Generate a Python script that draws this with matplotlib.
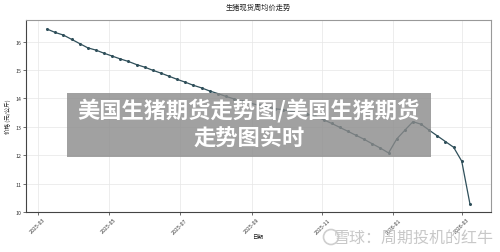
import matplotlib
matplotlib.use("Agg")
import matplotlib.pyplot as plt
import matplotlib.dates as mdates
from matplotlib.patches import Rectangle, Ellipse
import pandas as pd

plt.rcParams['font.family'] = ['Noto Sans CJK SC', 'DejaVu Sans']

# 生猪现货周均价 (元/公斤), weekly
start_date = "2025-03-09"
prices = [16.44, 16.32, 16.23, 16.08, 15.93, 15.78, 15.70, 15.59, 15.49, 15.39,
          15.30, 15.19, 15.10, 14.99, 14.89, 14.78, 14.67, 14.57, 14.46, 14.37,
          14.26, 14.17, 14.07, 13.98, 13.90, 13.83, 13.76, 13.70, 13.64, 13.60,
          13.55, 13.50, 13.44, 13.37, 13.25, 13.12, 12.98, 12.84, 12.70, 12.56,
          12.40, 12.25, 12.08, 12.57, 12.88, 13.18, 13.09, 12.88, 12.68, 12.48,
          12.28, 11.79, 10.30]
dates = pd.date_range(start_date, periods=len(prices), freq="7D")

title = "生猪现货周均价走势"
xlabel = "日期"
ylabel = "价格 (元/公斤)"
overlay_lines = ["美国生猪期货走势图/美国生猪期货", "走势图实时"]
watermark = "雪球：周期投机的红牛"

fig = plt.figure(figsize=(5, 2.53), dpi=100)
ax = fig.add_axes([0.052, 0.158, 0.93, 0.759])

ax.plot(dates, prices, color="#2f4f5a", linewidth=0.9, marker="o", markersize=1.2)

ax.set_ylim(10, 16.76)
ax.set_yticks(range(10, 17))
ax.xaxis.set_major_locator(mdates.MonthLocator(bymonth=[1, 3, 5, 7, 9, 11]))
ax.xaxis.set_major_formatter(mdates.DateFormatter("%Y-%m"))
for lab in ax.get_xticklabels():
    lab.set_rotation(45)
    lab.set_ha("center")

ax.tick_params(labelsize=3.8, length=2, width=0.5, colors="#333333", pad=1.5)
ax.grid(True, color="#e6e6e6", linewidth=0.5)
ax.set_axisbelow(True)
for side in ["left", "bottom"]:
    ax.spines[side].set_color("#444444")
    ax.spines[side].set_linewidth(0.8)
for side in ["top", "right"]:
    ax.spines[side].set_color("#999999")
    ax.spines[side].set_linewidth(0.8)

fig.text(0.516, 0.968, title, ha="center", va="center", fontsize=5.2, color="#222222")
fig.text(0.516, 0.06, xlabel, ha="center", va="center", fontsize=4, color="#222222")
fig.text(0.016, 0.54, ylabel, ha="center", va="center", fontsize=4, rotation=90, color="#222222")

# overlay banner
fig.patches.append(Rectangle((67 / 500, 1 - 158 / 253), (431 - 67) / 500, (158 - 94) / 253,
                             transform=fig.transFigure, facecolor="#8a8a8a", alpha=0.8,
                             edgecolor="none", zorder=5))
fig.text(249 / 500, 1 - 111 / 253, overlay_lines[0], ha="center", va="center",
         fontsize=16, fontweight="bold", color="white", zorder=6)
fig.text(249 / 500, 1 - 138 / 253, overlay_lines[1], ha="center", va="center",
         fontsize=16, fontweight="bold", color="white", zorder=6)

# watermark
fig.patches.append(Ellipse((331 / 500, 1 - 238 / 253), 15 / 500, 15 / 253, transform=fig.transFigure,
                           facecolor="none", edgecolor="#cfcfcf", linewidth=1.2, zorder=6))
fig.text(414 / 500, 1 - 238 / 253, watermark, ha="center", va="center",
         fontsize=11.5, color="#c8c8c8", zorder=6)

fig.savefig("out.png", dpi=100, facecolor="white")
